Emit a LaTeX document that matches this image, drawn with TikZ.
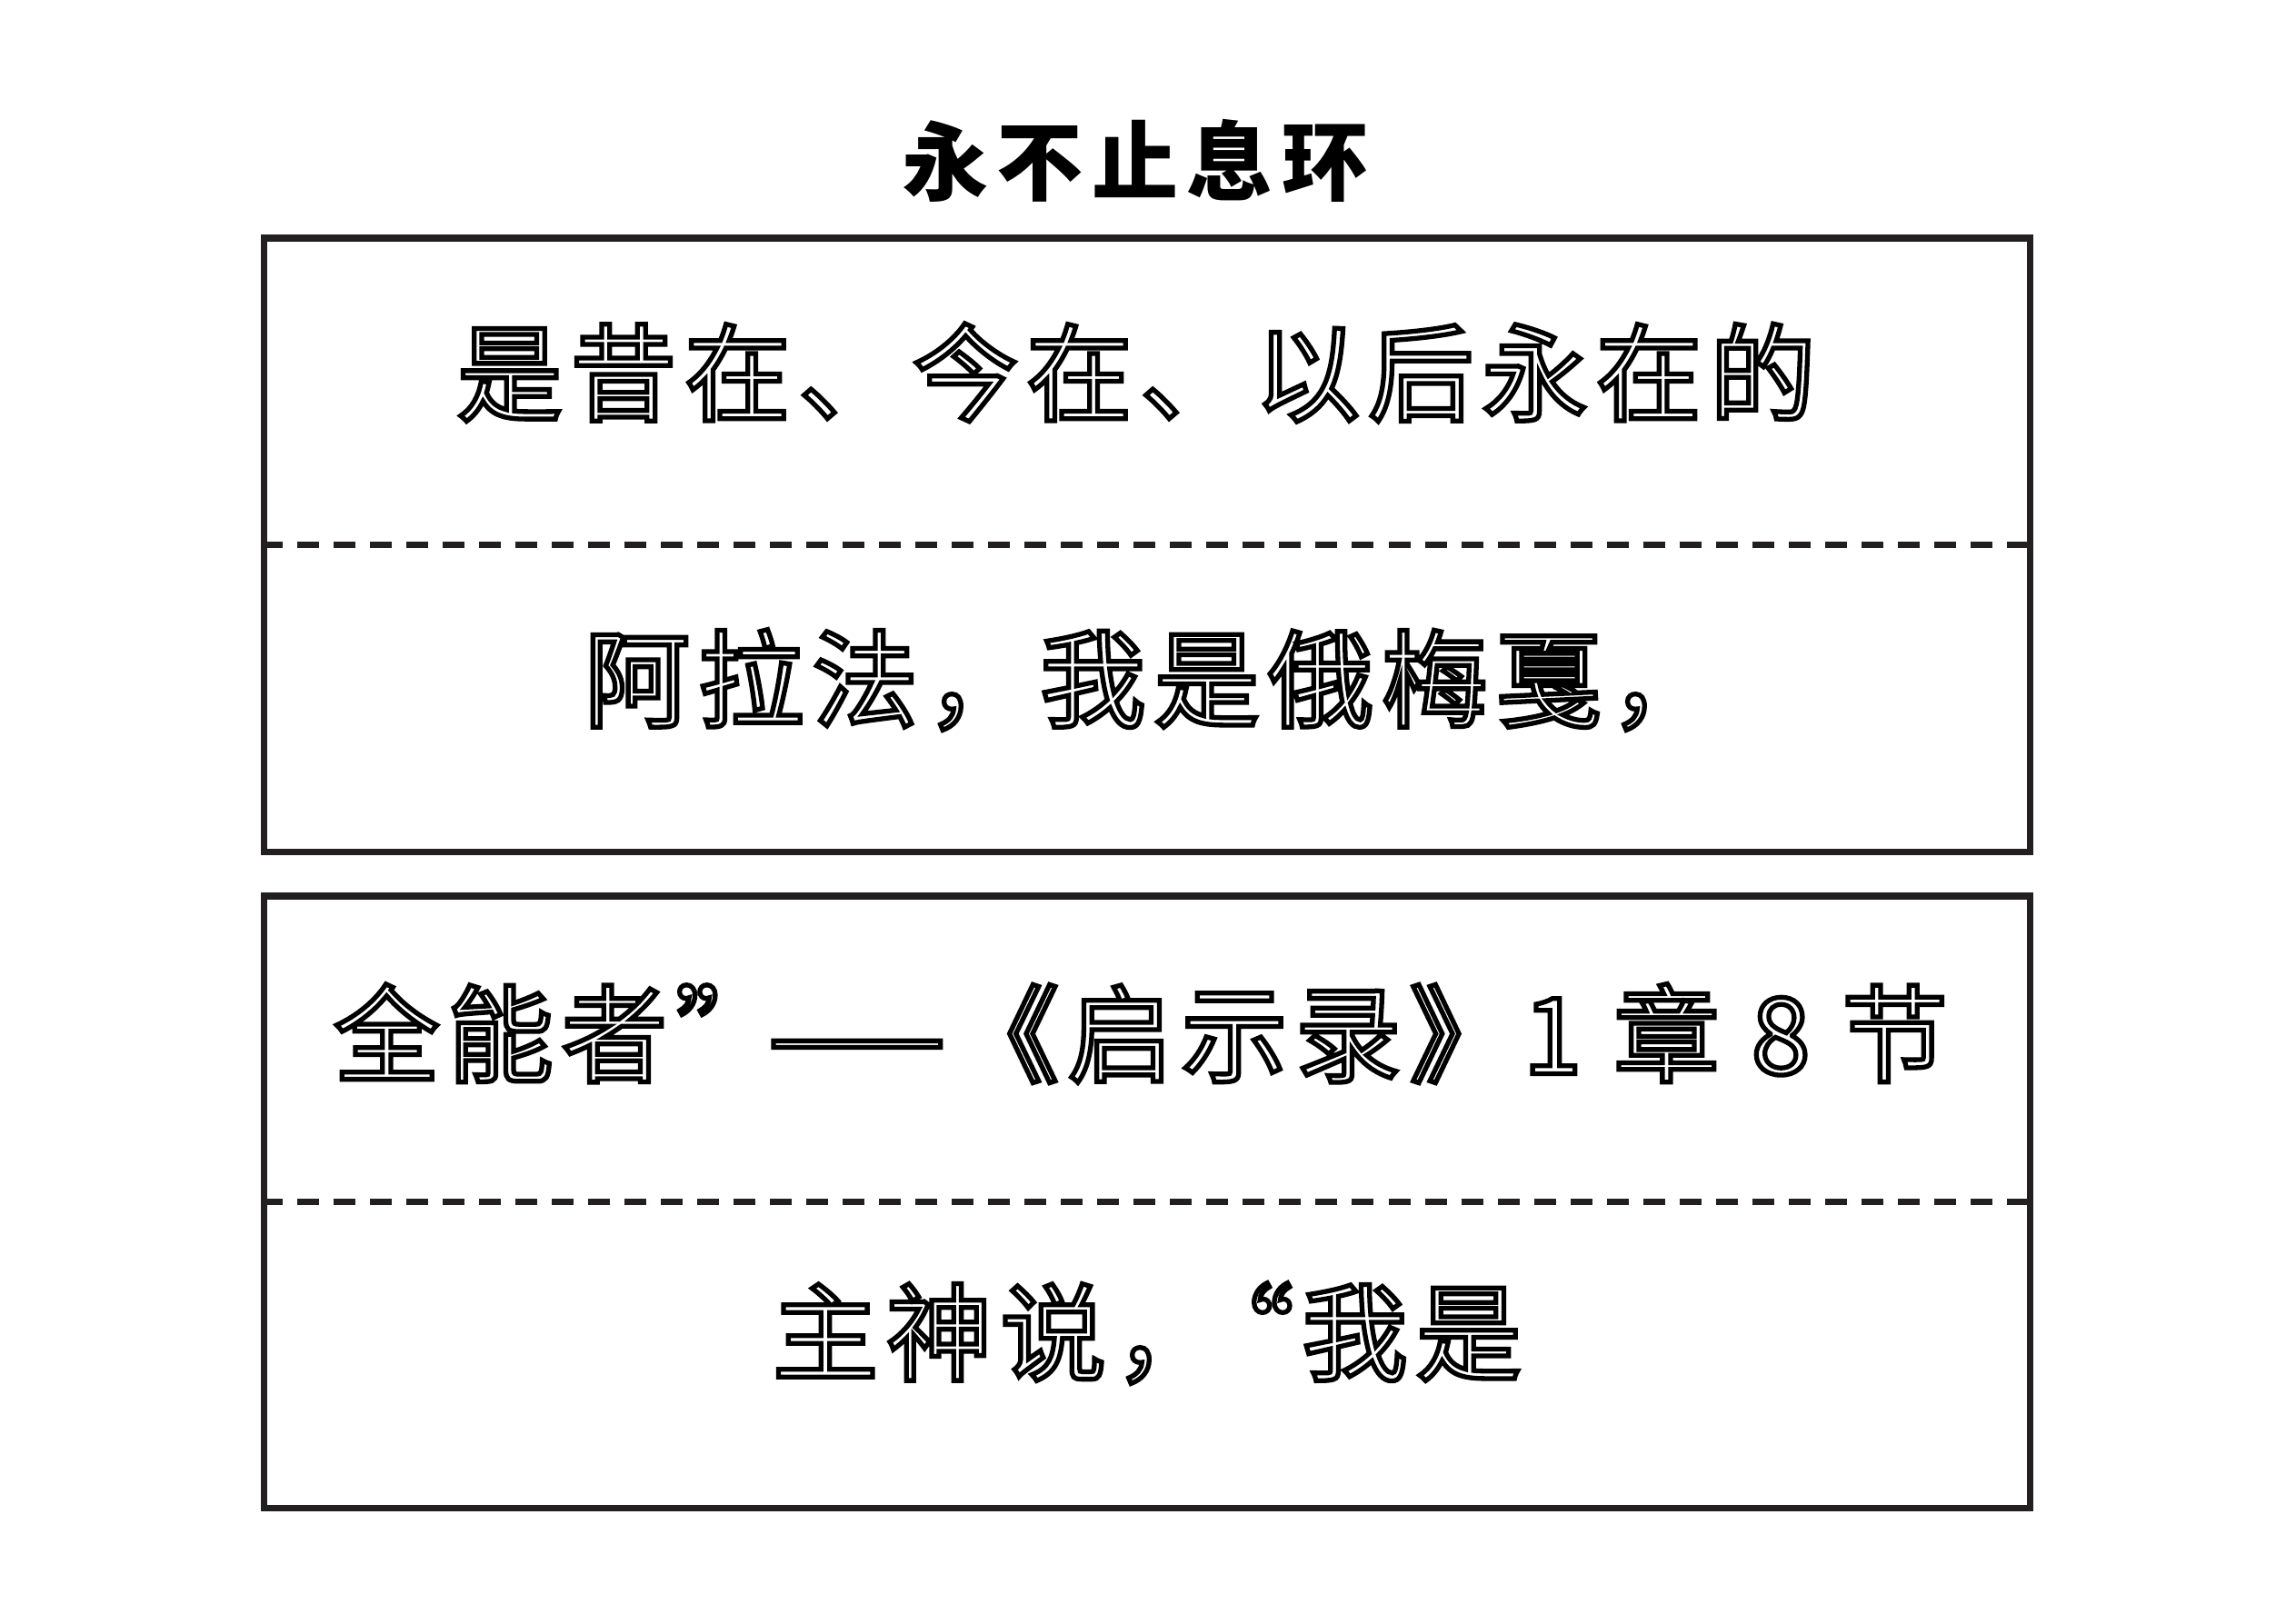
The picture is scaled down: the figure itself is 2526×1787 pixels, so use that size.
\documentclass[tikz,border=0pt]{standalone}
\usepackage{fontspec}
\newfontfamily\cjk{Noto Sans CJK SC}
\newcommand\olt[1]{\special{pdf:literal direct 1 Tr 1.5 w}#1\special{pdf:literal direct 0 Tr}}
\definecolor{ink}{RGB}{35,31,32}
\begin{document}
\begin{tikzpicture}[x=0.01cm,y=-0.01cm,
  frame/.style={draw=ink, line width=2.1pt, minimum width=19.42cm, inner sep=0pt},
  sep/.style={draw=ink, line width=2.1pt, dash pattern=on 0.24cm off 0.16cm},
  body/.style={text=black, font=\cjk\fontsize{33}{40}\selectfont\addfontfeature{LetterSpace=8}, inner sep=0pt, anchor=center},
  ttl/.style={font=\cjk\bfseries\fontsize{27}{32}\selectfont\addfontfeature{LetterSpace=10}, inner sep=0pt}]
\useasboundingbox[fill=white] (0,0) rectangle (2526,1787);
\node[ttl] (title) at (1249,177) {永不止息环};
\node[frame, minimum height=6.75cm] (top) at (1262,599.5) {};
\node[frame, minimum height=6.73cm] (bot) at (1262,1322.5) {};
\draw[sep] (top.west) -- (top.east);
\draw[sep] (bot.west) -- (bot.east);
\node[body] (l1) at (1250,410) {\olt{是昔在、今在、以后永在的}};
\node[body] (l2) at (1265,748) {\olt{阿拉法，我是俄梅戛，}};
\node[body] (l3) at (1255,1137) {\olt{全能者”\kern-0.12em——《启示录》1 章 8 节}};
\node[body] (l4) at (1262,1467) {\olt{主神说，\kern-0.3em“我是}};
\end{tikzpicture}
\end{document}
